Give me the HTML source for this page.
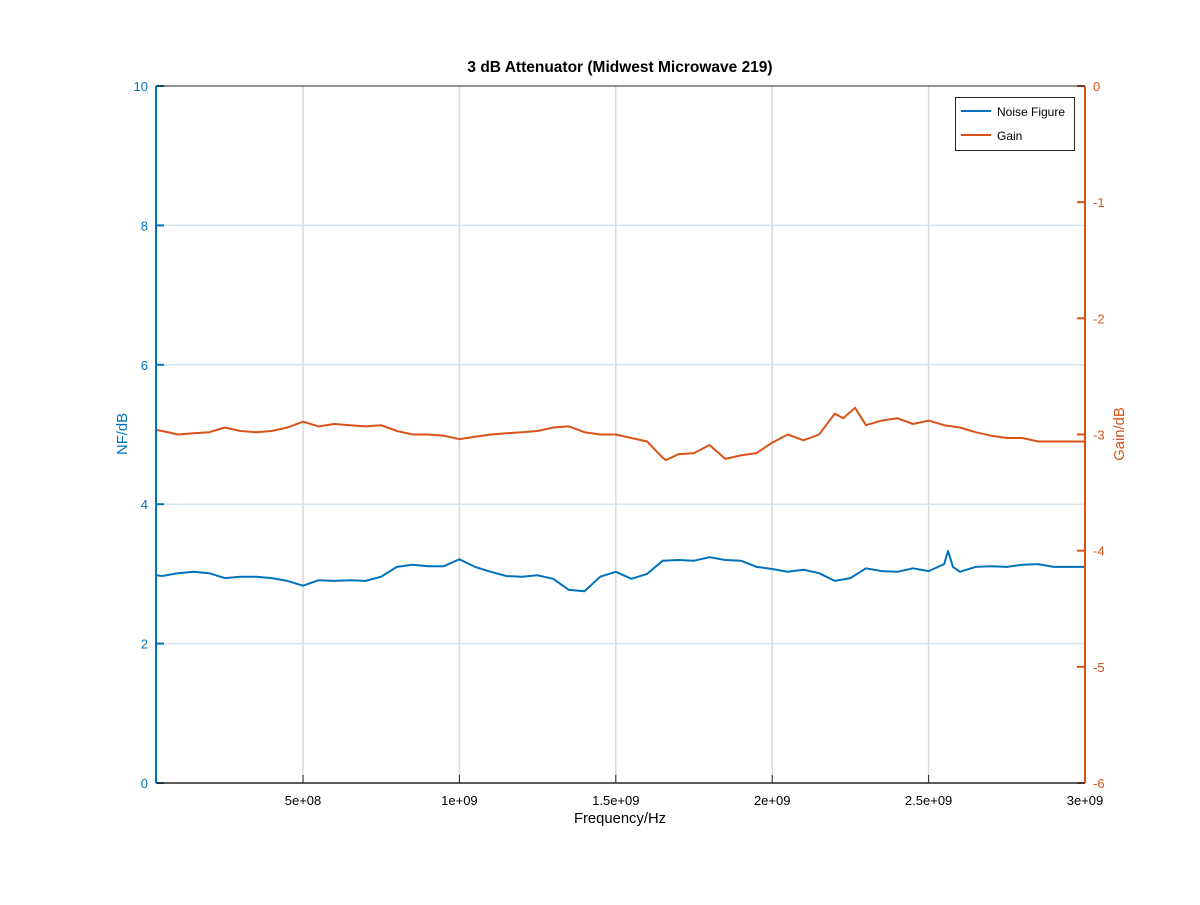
<!DOCTYPE html>
<html><head><meta charset="utf-8"><style>
body{margin:0;background:#fff;font-family:"Liberation Sans",sans-serif}
</style></head><body>
<svg id="chart" width="1200" height="900" xmlns="http://www.w3.org/2000/svg" font-family="Liberation Sans, sans-serif">
<rect width="1200" height="900" fill="#fff"/>
<g id="grid"></g>
<g id="series"></g>
<g id="axes"></g>
<text x="620" y="72" text-anchor="middle" font-size="15.5" font-weight="bold">3 dB Attenuator (Midwest Microwave 219)</text>
<text x="620" y="823" text-anchor="middle" font-size="14.8">Frequency/Hz</text>
<text transform="translate(127,434) rotate(-90)" text-anchor="middle" font-size="14.8" fill="#0072bd">NF/dB</text>
<text transform="translate(1124,434) rotate(-90)" text-anchor="middle" font-size="14.8" fill="#d95319">Gain/dB</text>
<g>
<rect x="955.5" y="97.5" width="119" height="53" fill="#fff" stroke="#262626"/>
<line x1="961" y1="111" x2="991" y2="111" stroke="#0072bd" stroke-width="2"/>
<text x="997" y="116" font-size="12">Noise Figure</text>
<line x1="961" y1="135" x2="991" y2="135" stroke="#d95319" stroke-width="2"/>
<text x="997" y="140" font-size="12">Gain</text>
</g>
</svg>
<script>
const xTicks=[5e8,1e9,1.5e9,2e9,2.5e9,3e9];
const xTickLabels=["5e+08","1e+09","1.5e+09","2e+09","2.5e+09","3e+09"];
const nfTicks=[0,2,4,6,8,10];
const gainTicks=[0,-1,-2,-3,-4,-5,-6];
const nfFreqMHz=[30,50,100,150,200,250,300,350,400,450,500,550,600,650,700,750,800,850,900,950,1000,1050,1100,1150,1200,1250,1300,1350,1400,1450,1500,1550,1600,1650,1700,1750,1800,1850,1900,1950,2000,2050,2100,2150,2200,2250,2300,2350,2400,2450,2500,2550,2562,2578,2600,2650,2700,2750,2800,2850,2900,2950,3000];
const nfValues=[2.98,2.97,3.01,3.03,3.01,2.94,2.96,2.96,2.94,2.90,2.83,2.91,2.90,2.91,2.90,2.96,3.10,3.13,3.11,3.11,3.21,3.10,3.03,2.97,2.96,2.98,2.93,2.77,2.75,2.96,3.03,2.93,3.00,3.19,3.20,3.19,3.24,3.20,3.19,3.10,3.07,3.03,3.06,3.01,2.90,2.94,3.08,3.04,3.03,3.08,3.04,3.14,3.33,3.10,3.03,3.10,3.11,3.10,3.13,3.14,3.10,3.10,3.10];
const gainFreqMHz=[30,50,100,150,200,250,300,350,400,450,500,550,600,650,700,750,800,850,900,950,1000,1050,1100,1150,1200,1250,1300,1350,1400,1450,1500,1550,1600,1650,1660,1700,1750,1800,1850,1900,1950,2000,2050,2100,2150,2200,2227,2265,2300,2350,2400,2450,2500,2550,2600,2650,2700,2750,2800,2850,2900,2950,3000];
const gainValues=[-2.96,-2.97,-3.00,-2.99,-2.98,-2.94,-2.97,-2.98,-2.97,-2.94,-2.89,-2.93,-2.91,-2.92,-2.93,-2.92,-2.97,-3.00,-3.00,-3.01,-3.04,-3.02,-3.00,-2.99,-2.98,-2.97,-2.94,-2.93,-2.98,-3.00,-3.00,-3.03,-3.06,-3.20,-3.22,-3.17,-3.16,-3.09,-3.21,-3.18,-3.16,-3.07,-3.00,-3.05,-3.00,-2.82,-2.86,-2.77,-2.92,-2.88,-2.86,-2.91,-2.88,-2.92,-2.94,-2.98,-3.01,-3.03,-3.03,-3.06,-3.06,-3.06,-3.06];

const L=156,R=1085,T=86,B=783,XMIN=3e7,XMAX=3e9;
const sx=f=>L+(f-XMIN)/(XMAX-XMIN)*(R-L);
const syL=v=>B-(v-0)/10*(B-T);
const syR=v=>T+(0-v)/6*(B-T);
const NS="http://www.w3.org/2000/svg";
function mk(tag,attrs,parent){const e=document.createElementNS(NS,tag);for(const k in attrs)e.setAttribute(k,attrs[k]);parent.appendChild(e);return e;}
const gridG=document.getElementById('grid'),axesG=document.getElementById('axes'),seriesG=document.getElementById('series');
xTicks.forEach((t,i)=>{
 const x=sx(t);
 if(t<XMAX){const g=mk('line',{x1:x,y1:T,x2:x,y2:B,stroke:'#d9d9d9','stroke-width':1.5},gridG);
 
 }
 const tk=mk('line',{x1:x,y1:B,x2:x,y2:B-8,stroke:'#262626'},axesG);
 
 
 const tx=mk('text',{x:x,y:B+22,'text-anchor':'middle','font-size':13},axesG);
 tx.textContent=xTickLabels[i];
 
 
});
nfTicks.forEach(t=>{
 const y=syL(t);
 if(t>0&&t<10){const g=mk('line',{x1:L,y1:y,x2:R,y2:y,stroke:'#d4e4ef','stroke-width':1.5},gridG);
 
 }
 const tk=mk('line',{x1:L,y1:y,x2:L+8,y2:y,stroke:'#0072bd','stroke-width':2},axesG);
 
 
 const tx=mk('text',{x:L-8,y:y+5,'text-anchor':'end','font-size':13,fill:'#0072bd'},axesG);
 tx.textContent=String(t);
 
 
});
gainTicks.forEach(t=>{
 const y=syR(t);
 const tk=mk('line',{x1:R,y1:y,x2:R-8,y2:y,stroke:'#d95319','stroke-width':2},axesG);
 
 
 const tx=mk('text',{x:R+8,y:y+5,'font-size':13,fill:'#d95319'},axesG);
 tx.textContent=String(t);
 
 
});
const topBorder=mk('line',{x1:L,y1:T,x2:R,y2:T,stroke:'#262626'},axesG);


const bottomAxis=mk('line',{x1:L,y1:B,x2:R,y2:B,stroke:'#262626','stroke-width':1.5},axesG);


const leftAxis=mk('line',{x1:L,y1:T,x2:L,y2:B,stroke:'#0072bd','stroke-width':2},axesG);


const rightAxis=mk('line',{x1:R,y1:T,x2:R,y2:B,stroke:'#d95319','stroke-width':2},axesG);


const nfPts=nfFreqMHz.map((f,i)=>sx(f*1e6).toFixed(1)+','+syL(nfValues[i]).toFixed(1)).join(' ');
const nfLine=mk('polyline',{points:nfPts,fill:'none',stroke:'#0072bd','stroke-width':2,'stroke-linejoin':'round'},seriesG);


const gPts=gainFreqMHz.map((f,i)=>sx(f*1e6).toFixed(1)+','+syR(gainValues[i]).toFixed(1)).join(' ');
const gainLine=mk('polyline',{points:gPts,fill:'none',stroke:'#d95319','stroke-width':2,'stroke-linejoin':'round'},seriesG);


</script>
</body></html>
